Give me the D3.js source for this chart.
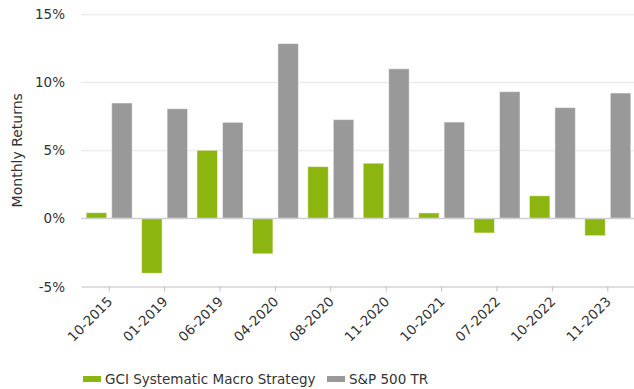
<!DOCTYPE html>
<html><head><meta charset="utf-8">
<script src="https://cdn.jsdelivr.net/npm/d3@7"></script>
<style>
html,body{margin:0;padding:0;background:#fff;}
svg{display:block;font-family:"DejaVu Sans",Verdana,sans-serif;}
</style></head>
<body>
<svg id="chart" width="634" height="389"></svg>
<script>
const categories = ["10-2015","01-2019","06-2019","04-2020","08-2020","11-2020","10-2021","07-2022","10-2022","11-2023"];
const seriesNames = ["GCI Systematic Macro Strategy","S&P 500 TR"];
const gciValues = [0.42,-4.03,5.0,-2.6,3.8,4.05,0.4,-1.07,1.66,-1.27];
const spxValues = [8.47,8.05,7.05,12.83,7.25,10.98,7.07,9.3,8.13,9.2];
const yTicks = [-5,0,5,10,15];
const colors = ["#8cb510","#999999"];

(function () {
const svg = d3.select("#chart");
const pLeft = 81, pRight = 635, pTop = 14, pBottom = 286.5;
const fs = 13.5;

const x0 = d3.scaleBand().domain(categories).range([pLeft, pRight]).padding(0);
const x1 = d3.scaleBand().domain(seriesNames).range([0, 46]).paddingInner(0.196).paddingOuter(0);
const y = d3.scaleLinear().domain([-5, 15]).range([pBottom, pTop]);

// gridlines
svg.append("g").selectAll("line").data(yTicks.filter(t => t > 0)).join("line")
  .attr("x1", pLeft).attr("x2", 634)
  .attr("y1", d => Math.round(y(d)) + 0.5).attr("y2", d => Math.round(y(d)) + 0.5)
  .attr("stroke", "#ececec").attr("stroke-width", 1.5);

// y labels
svg.append("g").selectAll("text").data(yTicks).join("text")
  .attr("x", 65).attr("y", d => y(d) + 5)
  .attr("text-anchor", "end").attr("font-size", fs).attr("fill", "#333")
  .text(d => d + "%");

// bars
const data = categories.map((c, i) => ({ c, vals: [gciValues[i], spxValues[i]] }));
const groups = svg.append("g").selectAll("g").data(data).join("g")
  .attr("transform", d => `translate(${x0(d.c) + x0.bandwidth() / 2 + 0.5 - 23},0)`);
groups.selectAll("rect").data(d => d.vals.map((v, j) => ({ v, s: seriesNames[j], j }))).join("rect")
  .attr("x", d => x1(d.s))
  .attr("width", x1.bandwidth())
  .attr("y", d => Math.min(y(d.v), y(0)))
  .attr("height", d => Math.abs(y(d.v) - y(0)))
  .attr("fill", d => colors[d.j])
  .attr("stroke", "#fff").attr("stroke-opacity", 0.5).attr("stroke-width", 1);

// zero line
svg.append("line").attr("x1", pLeft).attr("x2", 634)
  .attr("y1", Math.round(y(0)) + 0.5).attr("y2", Math.round(y(0)) + 0.5)
  .attr("stroke", "#d0d0d0").attr("stroke-width", 1.5);

// x axis
const xAxis = d3.axisBottom(x0).tickSize(5).tickSizeOuter(0).tickPadding(6);
const gx = svg.append("g").attr("transform", `translate(0.5,${pBottom})`).call(xAxis);
gx.select(".domain").attr("stroke", "#c0c0c0").attr("d", `M${pLeft},0.5H634`);
gx.selectAll(".tick line").attr("stroke", "#c0c0c0");
gx.selectAll(".tick text")
  .attr("font-family", "DejaVu Sans, Verdana, sans-serif")
  .attr("font-size", fs).attr("fill", "#333")
  .attr("text-anchor", "end")
  .attr("dy", null).attr("y", null)
  .attr("transform", "translate(4,16) rotate(-45)");

// y axis title
svg.append("text").attr("transform", `translate(22,${(pTop + pBottom) / 2}) rotate(-90)`)
  .attr("text-anchor", "middle").attr("font-size", 14).attr("fill", "#333")
  .text("Monthly Returns");

// legend
const legendX = [83, 327];
const lg = svg.append("g").selectAll("g").data(seriesNames).join("g")
  .attr("transform", (d, i) => `translate(${legendX[i]},376)`);
lg.append("rect").attr("width", 18).attr("height", 6).attr("fill", (d, i) => colors[i]);
lg.append("text").attr("x", 22).attr("y", 7.5).attr("font-size", fs).attr("fill", "#333").text(d => d);
})();
</script>
</body></html>
